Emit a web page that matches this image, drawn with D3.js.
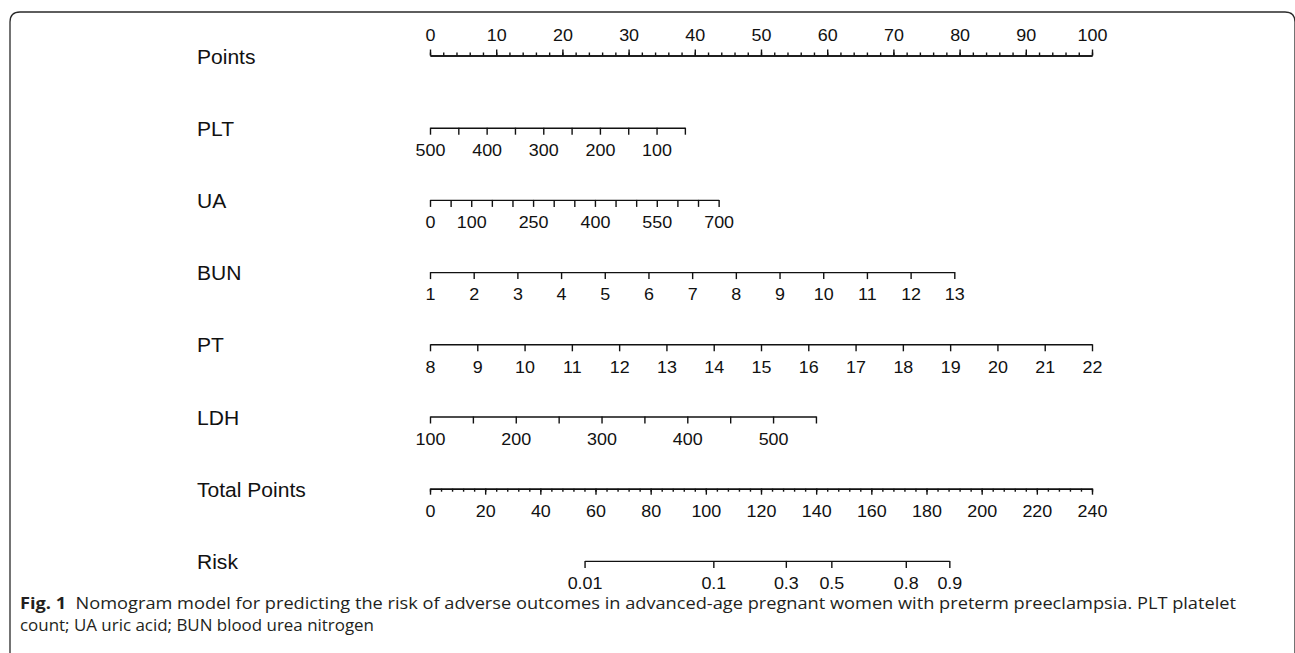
<!DOCTYPE html>
<html>
<head>
<meta charset="utf-8">
<script src="https://cdn.jsdelivr.net/npm/d3@7"></script>
<style>
  html, body { margin: 0; padding: 0; background: #fff; }
  svg { display: block; }
  .nomo text { font-family: "Liberation Sans", Arial, Helvetica, sans-serif; }
</style>
</head>
<body>
<svg id="chart" width="1295" height="653"></svg>
<script>
// ---- Nomogram data ----
const rowNames = ["Points", "PLT", "UA", "BUN", "PT", "LDH", "Total Points", "Risk"];

const pointsLabels = [0, 10, 20, 30, 40, 50, 60, 70, 80, 90, 100];

// Each predictor: value domain (ends of the axis) and the points those ends score
const pltDomain = [500, 50];
const pltPoints = [0, 38.5];
const pltTicks = [500, 450, 400, 350, 300, 250, 200, 150, 100, 50];
const pltLabels = [500, 400, 300, 200, 100];

const uaDomain = [0, 700];
const uaPoints = [0, 43.6];
const uaTicks = [0, 50, 100, 150, 200, 250, 300, 350, 400, 450, 500, 550, 600, 650, 700];
const uaLabels = [0, 100, 250, 400, 550, 700];

const bunDomain = [1, 13];
const bunPoints = [0, 79.2];
const bunTicks = [1, 2, 3, 4, 5, 6, 7, 8, 9, 10, 11, 12, 13];
const bunLabels = [1, 2, 3, 4, 5, 6, 7, 8, 9, 10, 11, 12, 13];

const ptDomain = [8, 22];
const ptPoints = [0, 100];
const ptTicks = [8, 9, 10, 11, 12, 13, 14, 15, 16, 17, 18, 19, 20, 21, 22];
const ptLabels = [8, 9, 10, 11, 12, 13, 14, 15, 16, 17, 18, 19, 20, 21, 22];

const ldhDomain = [100, 550];
const ldhPoints = [0, 58.3];
const ldhTicks = [100, 150, 200, 250, 300, 350, 400, 450, 500, 550];
const ldhLabels = [100, 200, 300, 400, 500];

const totalLabels = [0, 20, 40, 60, 80, 100, 120, 140, 160, 180, 200, 220, 240];

// Risk axis: logistic model, total points where risk = 0.5 and points per logit unit
const riskTicks = [0.01, 0.1, 0.3, 0.5, 0.8, 0.9];
const riskLabels = ["0.01", "0.1", "0.3", "0.5", "0.8", "0.9"];
const riskMidPoints = 145.5;
const riskPointsPerLogit = 19.47;

const captionBold = "Fig. 1";
const captionLine1 = "Nomogram model for predicting the risk of adverse outcomes in advanced-age pregnant women with preterm preeclampsia. PLT platelet";
const captionLine2 = "count; UA uric acid; BUN blood urea nitrogen";

// ---- Layout ----
const svg = d3.select("#chart");
const plot = svg.append("g").attr("class", "nomo");
const xLeft = 430, xRight = 1092;
const rowTop = 55.5, rowStep = 72.2;
const rowY = i => rowTop + rowStep * i;
const labelX = 197;
const textStretch = "scale(1.12,1)";
const ink = "#111";

const pointsX = d3.scaleLinear().domain([0, 100]).range([xLeft, xRight]);
const totalX = d3.scaleLinear().domain([0, 240]).range([xLeft, xRight]);

// Frame with rounded top corners
const r = 10;
svg.append("path")
  .attr("d", `M10,653 L10,${12 + r} Q10,12 ${10 + r},12 L${1295 - r},12 Q1295,12 1295,${12 + r} L1295,653`)
  .attr("fill", "none")
  .attr("stroke", "#2a2a2a")
  .attr("stroke-width", 1.3);

// Row labels
rowNames.forEach((name, i) => {
  plot.append("g")
    .attr("transform", `translate(${labelX},${rowY(i) + 8}) scale(1.08,1)`)
    .append("text")
    .attr("font-size", 19.5)
    .attr("fill", ink)
    .text(name);
});

function styleAxis(g) {
  g.attr("font-size", 16).attr("font-family", null);
  g.selectAll("path, line").attr("stroke", ink).attr("stroke-width", 1.4);
  g.selectAll("text").attr("fill", ink).attr("transform", textStretch);
}

// Points axis (ticks up, labels above)
const minorPoints = d3.range(0, 101, 2);
plot.append("g")
  .attr("transform", `translate(0,${rowY(0)})`)
  .call(d3.axisTop(pointsX).tickValues(minorPoints).tickSize(3).tickSizeOuter(0).tickFormat(""))
  .call(styleAxis);
plot.append("g")
  .attr("transform", `translate(0,${rowY(0)})`)
  .call(d3.axisTop(pointsX).tickValues(pointsLabels).tickSize(6).tickSizeOuter(0).tickPadding(9).tickFormat(d3.format("d")))
  .call(styleAxis);

// Predictor axes (ticks down, labels below)
const predictors = [
  { domain: pltDomain, pts: pltPoints, ticks: pltTicks, labels: pltLabels },
  { domain: uaDomain, pts: uaPoints, ticks: uaTicks, labels: uaLabels },
  { domain: bunDomain, pts: bunPoints, ticks: bunTicks, labels: bunLabels },
  { domain: ptDomain, pts: ptPoints, ticks: ptTicks, labels: ptLabels },
  { domain: ldhDomain, pts: ldhPoints, ticks: ldhTicks, labels: ldhLabels }
];

predictors.forEach((p, i) => {
  const toPoints = d3.scaleLinear().domain(p.domain).range(p.pts);
  const x = d3.scaleLinear().domain(p.domain).range([pointsX(toPoints(p.domain[0])), pointsX(toPoints(p.domain[1]))]);
  const labelSet = new Set(p.labels);
  plot.append("g")
    .attr("transform", `translate(0,${rowY(i + 1)})`)
    .call(d3.axisBottom(x).tickValues(p.ticks).tickSize(7).tickSizeOuter(0).tickPadding(10)
      .tickFormat(d => labelSet.has(d) ? String(d) : ""))
    .call(styleAxis);
});

// Total points axis
const minorTotal = d3.range(0, 241, 4);
plot.append("g")
  .attr("transform", `translate(0,${rowY(6)})`)
  .call(d3.axisBottom(totalX).tickValues(minorTotal).tickSize(3).tickSizeOuter(0).tickFormat(""))
  .call(styleAxis);
plot.append("g")
  .attr("transform", `translate(0,${rowY(6)})`)
  .call(d3.axisBottom(totalX).tickValues(totalLabels).tickSize(6).tickSizeOuter(0).tickPadding(11).tickFormat(d3.format("d")))
  .call(styleAxis);

// Risk axis: risk -> logit -> total points -> x
const logit = p => Math.log(p / (1 - p));
const logitToPoints = d3.scaleLinear().domain([0, 1]).range([riskMidPoints, riskMidPoints + riskPointsPerLogit]);
const riskX = d3.scaleLinear()
  .domain(riskTicks.map(logit))
  .range(riskTicks.map(p => totalX(logitToPoints(logit(p)))));
plot.append("g")
  .attr("transform", `translate(0,${rowY(7)})`)
  .call(d3.axisBottom(riskX).tickValues(riskTicks.map(logit)).tickSize(7).tickSizeOuter(0).tickPadding(10)
    .tickFormat((d, i) => riskLabels[i]))
  .call(styleAxis);

// Caption
const capFont = "'Open Sans', 'Noto Sans', sans-serif";
const cap1 = svg.append("text")
  .attr("x", 20).attr("y", 608.5)
  .attr("font-family", capFont).attr("font-size", 16.5).attr("fill", "#231f20")
  .attr("textLength", 1216).attr("lengthAdjust", "spacingAndGlyphs");
cap1.append("tspan").attr("font-weight", "bold").text(captionBold);
cap1.append("tspan").text("\u00a0\u00a0" + captionLine1);
svg.append("text")
  .attr("x", 20).attr("y", 630.5)
  .attr("font-family", capFont).attr("font-size", 16.5).attr("fill", "#231f20")
  .attr("textLength", 354).attr("lengthAdjust", "spacingAndGlyphs")
  .text(captionLine2);
</script>
</body>
</html>
